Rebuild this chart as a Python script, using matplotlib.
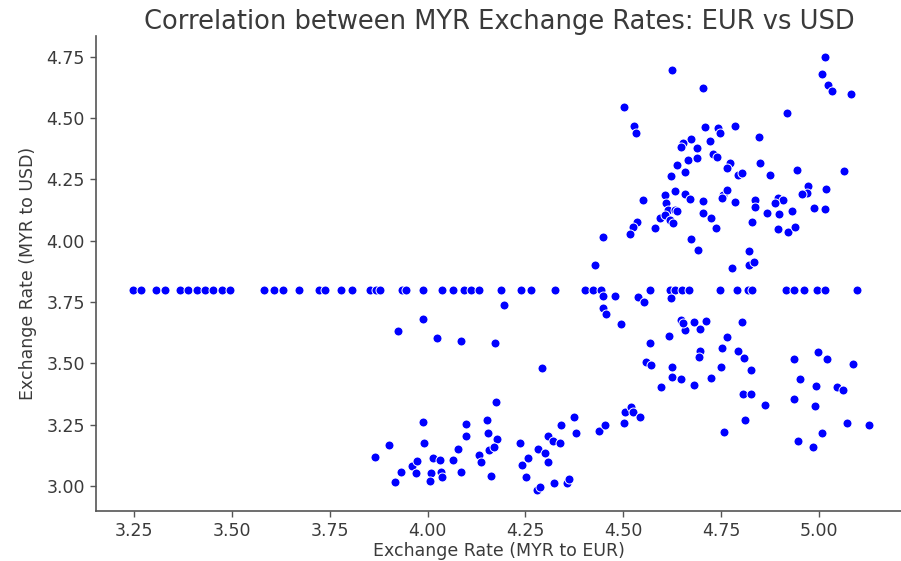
import matplotlib
matplotlib.use("Agg")
import matplotlib.pyplot as plt
import numpy as np

# Points on the flat USD line (USD = 3.80)
flat_eur = [3.247, 3.267, 3.306, 3.328, 3.368, 3.389, 3.411, 3.432, 3.453, 3.475, 3.496,
            3.581, 3.607, 3.631, 3.671, 3.723, 3.739, 3.778, 3.808, 3.854, 3.867, 3.878,
            3.935, 3.945, 3.989, 4.038, 4.064, 4.094, 4.111, 4.132, 4.188, 4.239, 4.264,
            4.326, 4.401, 4.422, 4.444, 4.567, 4.619, 4.633, 4.649, 4.667, 4.747, 4.791,
            4.819, 4.830, 4.915, 4.935, 4.962, 4.994, 5.016, 5.096]
flat_usd = [3.80] * len(flat_eur)

# Lower-left cluster
low_eur = [3.989, 3.924, 4.024, 4.085, 4.172, 4.194, 4.175, 3.989, 3.991, 3.901, 3.865,
           3.931, 3.918, 3.961, 3.974, 3.970, 4.015, 4.032, 4.008, 4.034, 4.006, 4.038,
           4.064, 4.078, 4.085, 4.098, 4.098, 4.132, 4.136, 4.153, 4.155, 4.177, 4.158,
           4.169, 4.162, 4.237, 4.241, 4.256, 4.251, 4.280, 4.288, 4.283, 4.300, 4.308,
           4.308, 4.320, 4.339, 4.341, 4.375, 4.380, 4.322, 4.357, 4.362, 4.292, 4.437,
           4.454, 4.501, 4.505, 4.520, 4.525, 4.542]
low_usd = [3.679, 3.633, 3.602, 3.592, 3.581, 3.736, 3.341, 3.261, 3.176, 3.167, 3.117,
           3.058, 3.015, 3.083, 3.102, 3.052, 3.113, 3.104, 3.054, 3.058, 3.020, 3.035,
           3.104, 3.151, 3.058, 3.253, 3.205, 3.126, 3.096, 3.269, 3.215, 3.190, 3.147,
           3.160, 3.042, 3.176, 3.086, 3.113, 3.035, 2.984, 2.995, 3.149, 3.136, 3.099,
           3.205, 3.185, 3.176, 3.247, 3.280, 3.215, 3.011, 3.011, 3.027, 3.480, 3.225,
           3.247, 3.256, 3.303, 3.321, 3.303, 3.280]

# Middle / lower-right cluster
mid_eur = [4.448, 4.480, 4.448, 4.456, 4.495, 4.538, 4.553, 4.623, 4.567, 4.559, 4.572,
           4.597, 4.616, 4.625, 4.625, 4.647, 4.647, 4.657, 4.653, 4.681, 4.696, 4.710,
           4.696, 4.693, 4.681, 4.725, 4.749, 4.751, 4.764, 4.758, 4.794, 4.809, 4.826,
           4.804, 4.807, 4.826, 4.811, 4.862, 4.937, 4.952, 4.935, 4.946, 4.997, 5.020,
           4.993, 4.990, 5.007, 4.985, 5.045, 5.060, 5.071, 5.086, 5.128]
mid_usd = [3.776, 3.776, 3.724, 3.701, 3.660, 3.772, 3.750, 3.765, 3.584, 3.507, 3.492,
           3.402, 3.613, 3.486, 3.443, 3.436, 3.677, 3.636, 3.666, 3.670, 3.640, 3.674,
           3.551, 3.525, 3.412, 3.440, 3.484, 3.564, 3.609, 3.221, 3.550, 3.520, 3.473,
           3.670, 3.375, 3.375, 3.269, 3.330, 3.516, 3.436, 3.355, 3.183, 3.547, 3.516,
           3.409, 3.326, 3.215, 3.160, 3.402, 3.391, 3.256, 3.496, 3.247]

# Upper cluster
up_eur = [4.625, 4.704, 4.501, 4.527, 4.532, 4.708, 4.741, 4.747, 4.785, 4.846, 4.721,
          4.674, 4.653, 4.647, 4.689, 4.730, 4.739, 4.666, 4.689, 4.636, 4.772, 4.764,
          4.657, 4.621, 4.794, 4.803, 4.849, 4.875, 4.550, 4.606, 4.631, 4.657, 4.670,
          4.610, 4.614, 4.631, 4.593, 4.606, 4.619, 4.580, 4.704, 4.704, 4.725, 4.736,
          4.755, 4.751, 4.764, 4.785, 4.836, 4.836, 4.828, 4.866, 4.674, 4.691, 4.536,
          4.525, 4.516, 4.448, 4.428, 4.627, 4.636, 5.016, 5.007, 5.024, 5.033, 5.082,
          4.917, 4.943, 5.064, 4.973, 4.969, 4.956, 5.018, 4.894, 4.909, 4.887, 4.898,
          4.930, 4.986, 5.016, 4.896, 4.921, 4.938, 4.821, 4.821, 4.834, 4.778]
up_usd = [4.696, 4.621, 4.544, 4.467, 4.440, 4.462, 4.458, 4.438, 4.467, 4.424, 4.406,
          4.413, 4.399, 4.383, 4.377, 4.353, 4.340, 4.329, 4.336, 4.308, 4.315, 4.295,
          4.281, 4.265, 4.268, 4.275, 4.315, 4.268, 4.166, 4.186, 4.204, 4.190, 4.168,
          4.152, 4.125, 4.125, 4.091, 4.105, 4.084, 4.050, 4.163, 4.114, 4.091, 4.050,
          4.186, 4.173, 4.207, 4.159, 4.166, 4.136, 4.077, 4.112, 4.005, 3.962, 4.077,
          4.057, 4.027, 4.016, 3.901, 4.073, 4.122, 4.748, 4.679, 4.635, 4.608, 4.597,
          4.522, 4.288, 4.285, 4.223, 4.195, 4.190, 4.209, 4.173, 4.166, 4.152, 4.109,
          4.122, 4.134, 4.128, 4.047, 4.034, 4.057, 3.958, 3.901, 3.911, 3.887]

eur = np.array(flat_eur + low_eur + mid_eur + up_eur)
usd = np.array(flat_usd + low_usd + mid_usd + up_usd)

x_ticks = [3.25, 3.50, 3.75, 4.00, 4.25, 4.50, 4.75, 5.00]
y_ticks = [3.00, 3.25, 3.50, 3.75, 4.00, 4.25, 4.50, 4.75]

text_col = "#3a3a3a"
plt.rcParams["font.family"] = ["DejaVu Sans"]

fig = plt.figure(figsize=(9.01, 5.61), dpi=100)
ax = fig.add_axes([96 / 901, 50 / 561, 1 - 96 / 901 + 0.002, (511 - 36) / 561])

ax.scatter(eur, usd, s=42, c="blue", edgecolors="white", linewidths=0.7, zorder=3)

ax.set_xlim(3.153, 5.214)
ax.set_ylim(2.898, 4.834)
ax.set_xticks(x_ticks)
ax.set_yticks(y_ticks)
ax.set_xticklabels([f"{v:.2f}" for v in x_ticks])
ax.set_yticklabels([f"{v:.2f}" for v in y_ticks])

for side in ["top", "right"]:
    ax.spines[side].set_visible(False)
for side in ["left", "bottom"]:
    ax.spines[side].set_color("#555555")
    ax.spines[side].set_linewidth(1.2)

ax.tick_params(axis="both", labelsize=12.5, colors="#555555", labelcolor=text_col,
               length=4, width=1.0, pad=4)

ax.set_xlabel("Exchange Rate (MYR to EUR)", fontsize=12.5, color=text_col, labelpad=1)
ax.set_ylabel("Exchange Rate (MYR to USD)", fontsize=12.5, color=text_col, labelpad=7)
ax.set_title("Correlation between MYR Exchange Rates: EUR vs USD", fontsize=18.5,
             color=text_col, pad=5)

fig.savefig("out.png", dpi=100, facecolor="white")
